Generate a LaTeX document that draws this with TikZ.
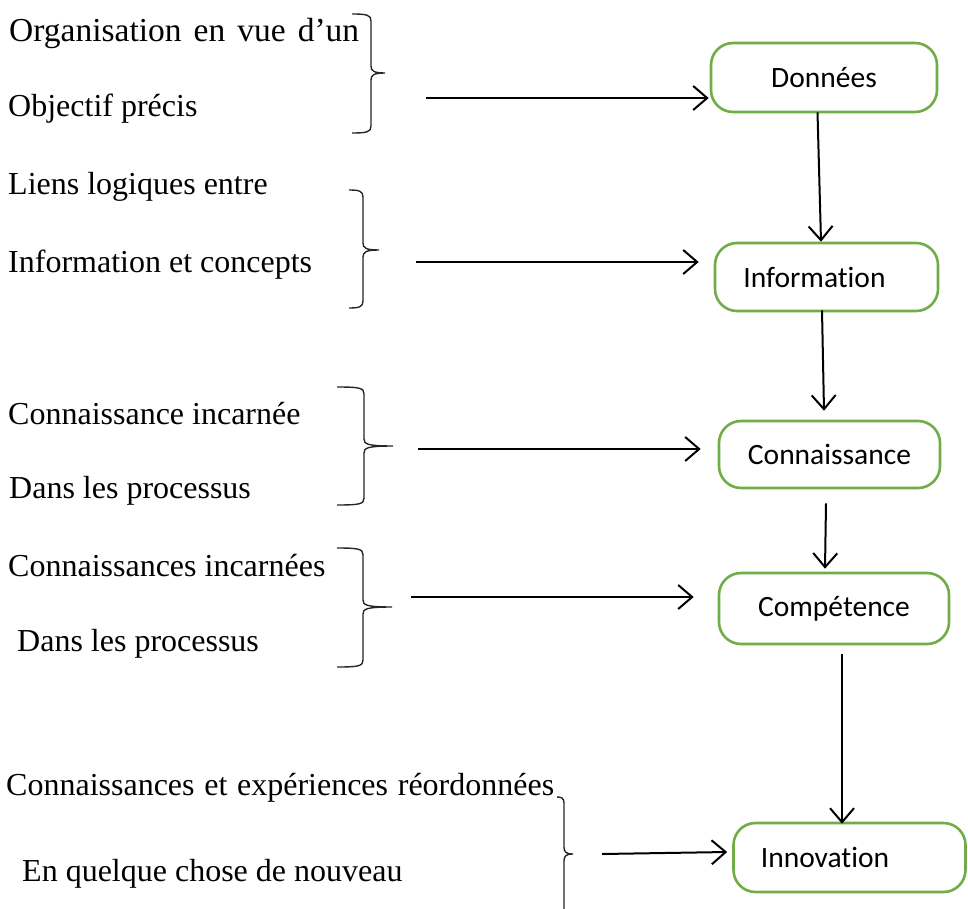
\documentclass[tikz,border=0pt]{standalone}
\usepackage{fontspec}
\setmainfont{Liberation Serif}
\newfontfamily\calfont[Ligatures=NoCommon]{Carlito}
\usetikzlibrary{arrows.meta}
\tikzset{
  lefttext/.style={anchor=base west, inner sep=0pt, font=\fontsize{32}{36}\selectfont},
  boxnode/.style={draw=boxgreen, line width=2.6pt, rounded corners=22pt, fill=white,
    font=\calfont\fontsize{29.5}{34}\selectfont, inner sep=0pt},
  arr/.style={line width=2pt, -{Straight Barb[length=14pt,width=24pt,line width=2pt]}},
  bracestyle/.style={line width=1.4pt, draw=black!85}
}
\definecolor{boxgreen}{HTML}{70AD47}
\newcommand\mybrace[6]{% x, top, mid, bottom, hook-left x, tip x
  \draw[bracestyle] (#5,#2) .. controls ({#1-4},#2) and (#1,{#2+1}) .. (#1,{#2+7})
    -- (#1,{#3-7}) .. controls (#1,{#3-2}) and ({#1+3},#3) .. (#6,#3)
    .. controls ({#1+3},#3) and (#1,{#3+2}) .. (#1,{#3+7})
    -- (#1,{#4-7}) .. controls (#1,{#4-1}) and ({#1-4},#4) .. (#5,#4);}
\begin{document}
\begin{tikzpicture}[x=1pt,y=-1pt]
\useasboundingbox (0,0) rectangle (968,909);
% left texts
\node[lefttext, font=\fontsize{33.5}{38}\selectfont] (t1) at (9,42) {\makebox[350pt][s]{Organisation en vue d’un}};
\node[lefttext] (t2) at (8,117) {Objectif précis};
\node[lefttext] (t3) at (8,195) {Liens logiques entre};
\node[lefttext] (t4) at (8,272) {Information et concepts};
\node[lefttext] (t5) at (8,424) {Connaissance incarnée};
\node[lefttext] (t6) at (9,498) {Dans les processus};
\node[lefttext] (t7) at (8,576) {Connaissances incarnées};
\node[lefttext] (t8) at (17,651) {Dans les processus};
\node[lefttext] (t9) at (6,795) {\makebox[548pt][s]{Connaissances et expériences réordonnées}};
\node[lefttext] (t10) at (22,881) {En quelque chose de nouveau};
% braces
\mybrace{371}{14}{73}{133}{352}{385}
\mybrace{363}{190}{250}{308}{349}{379}
\mybrace{364}{387}{446}{505}{337}{393}
\mybrace{363}{548}{607}{667}{337}{392}
\draw[bracestyle] (557,797) .. controls (561,797) and (564,798) .. (564,803)
    -- (564,847) .. controls (564,852) and (566,854) .. (573,854)
    .. controls (566,854) and (564,856) .. (564,861) -- (564,909);
% boxes
\node[boxnode, minimum width=226pt, minimum height=69pt] (d) at (824,77.5) {Données};
\node[boxnode, minimum width=223pt, minimum height=68pt] (i) at (826.5,277) {\raisebox{-3pt}{Information}\kern24pt};
\node[boxnode, minimum width=221pt, minimum height=67pt] (c) at (829.5,454.5) {Connaissance};
\node[boxnode, minimum width=230pt, minimum height=71pt] (k) at (834,608.5) {Compétence};
\node[boxnode, minimum width=232pt, minimum height=69pt] (n) at (849.5,857.5) {Innovation\kern49pt};
% horizontal arrow starts
\coordinate (a1) at (426,98);
\coordinate (a2) at (416,262);
\coordinate (a3) at (418,449);
\coordinate (a4) at (411,597);
\coordinate (a5) at (602,854);
\draw[arr] (a1) -- ([xshift=-1pt,yshift=-20.5pt]d.west);
\draw[arr] (a2) -- ([xshift=-15pt,yshift=15pt]i.west);
\draw[arr] (a3) -- ([xshift=-17pt,yshift=5.5pt]c.west);
\draw[arr] (a4) -- ([xshift=-24pt,yshift=11.5pt]k.west);
\draw[arr] (a5) -- ([xshift=-5pt,yshift=5.5pt]n.west);
% vertical arrows
\draw[arr] ([xshift=-6.5pt,yshift=1pt]d.south) -- ([xshift=-5.5pt]i.north);
\draw[arr] ([xshift=-4.5pt,yshift=2pt]i.south) -- ([xshift=-5.5pt,yshift=9pt]c.north);
\draw[arr] ([xshift=-3.5pt,yshift=-14pt]c.south) -- ([xshift=-9pt,yshift=3pt]k.north);
\draw[arr] ([xshift=8pt,yshift=-9pt]k.south) -- ([xshift=-7.5pt,yshift=-2pt]n.north);
\end{tikzpicture}
\end{document}
